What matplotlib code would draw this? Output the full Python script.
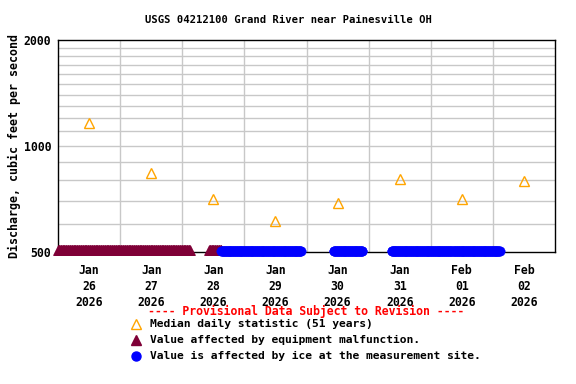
import numpy as np
import matplotlib.pyplot as plt
from matplotlib.ticker import FixedLocator, NullLocator

# days since Jan 26 2026 00:00
median_days = [0.5, 1.5, 2.5, 3.5, 4.5, 5.5, 6.5, 7.5]
median_cfs = [1165, 840, 707, 612, 690, 806, 707, 795]

# 15-minute records that sit on the bottom of the scale
equip_start = [0.0, 2.43]
equip_end = [2.13, 2.63]
equip_cfs = 508
ice_start = [2.63, 4.44, 5.37, 6.36]
ice_end = [3.92, 4.90, 6.34, 7.11]
ice_cfs = 502

tick_labels = ['Jan\n26\n2026', 'Jan\n27\n2026', 'Jan\n28\n2026', 'Jan\n29\n2026',
               'Jan\n30\n2026', 'Jan\n31\n2026', 'Feb\n01\n2026', 'Feb\n02\n2026']

font = 'DejaVu Sans Mono'
plt.rcParams['font.family'] = font
plt.rcParams['font.weight'] = 'bold'

fig = plt.figure(figsize=(5.76, 3.84), dpi=100)
ax = fig.add_axes([58 / 576, 1 - 252 / 384, 497 / 576, 212 / 384])

maroon = '#7f0037'
for s, e in zip(equip_start, equip_end):
    t = np.arange(s, e + 1e-9, 1 / 96)
    ax.plot(t, np.full(len(t), equip_cfs), ls='none', marker='^', ms=6.5,
            color=maroon, mec=maroon, mew=0.5, clip_on=False, zorder=3)
for s, e in zip(ice_start, ice_end):
    t = np.arange(s, e + 1e-9, 1 / 96)
    ax.plot(t, np.full(len(t), ice_cfs), ls='none', marker='o', ms=6.8,
            color='#0000ff', mec='#0000ff', mew=0.3, clip_on=False, zorder=4)

ax.plot(median_days, median_cfs, ls='none', marker='^', ms=7.5, mfc='none',
        mec='#ffa500', mew=1.0, zorder=5)

ax.set_yscale('log')
ax.set_ylim(500, 2000)
ax.set_xlim(0, 8)
ax.yaxis.set_major_locator(FixedLocator([500, 1000, 2000]))
ax.yaxis.set_minor_locator(NullLocator())
ax.set_yticklabels(['500', '1000', '2000'], fontsize=8.3, fontweight='bold')
for v in range(600, 2000, 100):
    ax.axhline(v, color='#c8c8c8', lw=1, zorder=1)
for d in range(1, 8):
    ax.axvline(d, color='#c8c8c8', lw=1, zorder=1)

ax.set_xticks(median_days)
ax.set_xticklabels(tick_labels, fontsize=8.3, fontweight='bold', linespacing=1.25)
ax.tick_params(axis='both', length=0)
ax.tick_params(axis='x', pad=9)
ax.tick_params(axis='y', pad=5)
for sp in ax.spines.values():
    sp.set_linewidth(1)
    sp.set_color('black')

ax.set_ylabel('Discharge, cubic feet per second', fontsize=8.4, fontweight='bold', labelpad=2)
fig.text(0.5, 1 - 20 / 384, 'USGS 04212100 Grand River near Painesville OH',
         ha='center', va='center', fontsize=7.6, fontweight='bold')

fig.text(306 / 576, 1 - 311 / 384, '---- Provisional Data Subject to Revision ----',
         ha='center', va='center', fontsize=8.3, fontweight='bold', color='#ff0000')
legend_rows = [('^', 'none', '#ffa500', 'Median daily statistic (51 years)'),
               ('^', maroon, maroon, 'Value affected by equipment malfunction.'),
               ('o', '#0000ff', '#0000ff', 'Value is affected by ice at the measurement site.')]
for i, (m, fc, ec, txt) in enumerate(legend_rows):
    y = 1 - (324 + 16 * i) / 384
    fig.lines.append(plt.Line2D([136 / 576], [y], marker=m, ms=6.5, mfc=fc, mec=ec,
                                mew=1.0, ls='none', transform=fig.transFigure))
    fig.text(150 / 576, y, txt, ha='left', va='center', fontsize=8.1, fontweight='bold')

fig.savefig('out.png', dpi=100)
